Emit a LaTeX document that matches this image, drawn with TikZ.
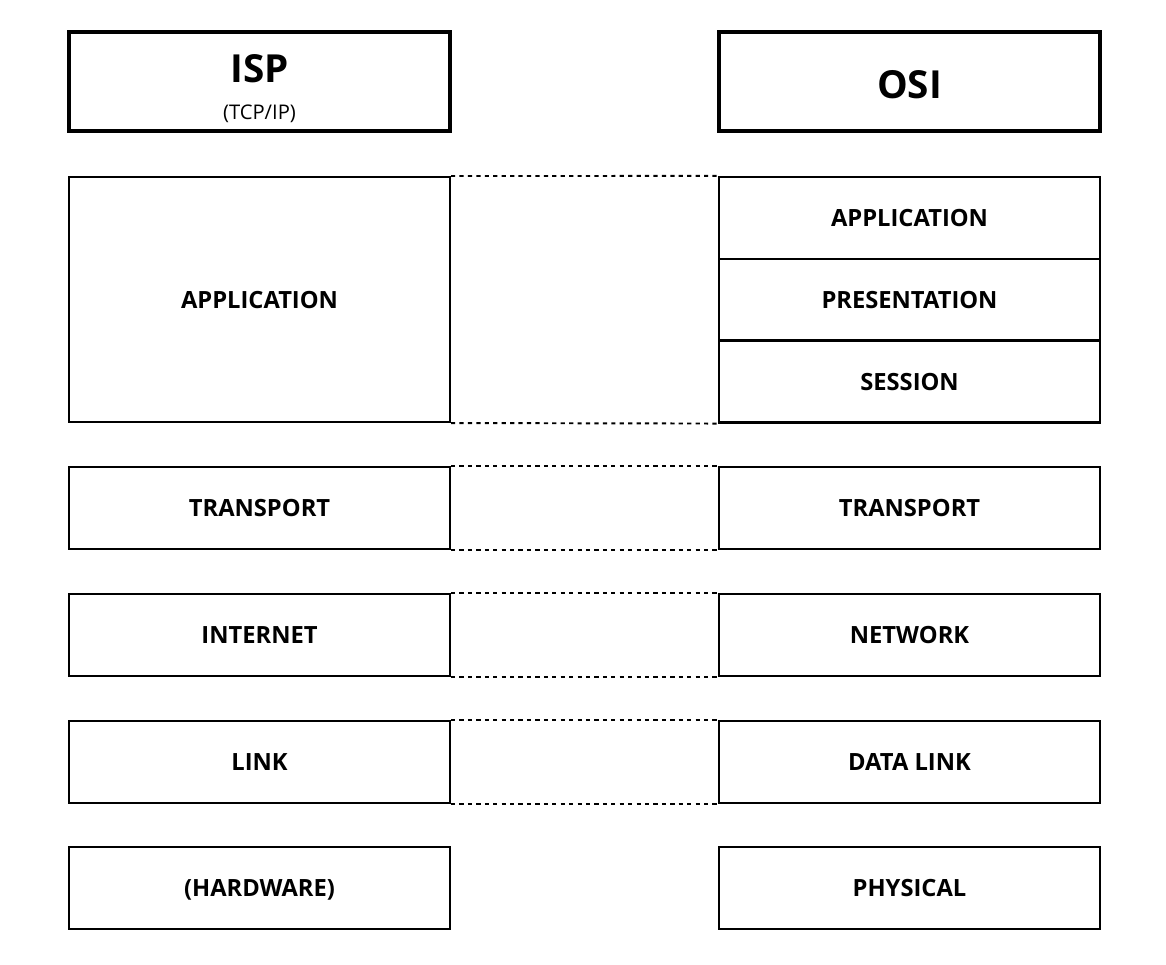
\documentclass[tikz,border=0pt]{standalone}
\usepackage{fontspec}
\setmainfont{Open Sans}
\begin{document}
\begin{tikzpicture}[x=0.02cm,y=-0.02cm,
  layer/.style={draw, line width=1.2pt, inner sep=0pt, minimum width=7.62cm,
    minimum height=1.64cm, text depth=0pt,
    font=\bfseries\fontsize{13.5}{16}\selectfont},
  header/.style={draw, line width=2.3pt, inner sep=0pt, minimum width=7.62cm,
    minimum height=1.98cm},
  title/.style={align=center, inner sep=0pt, text depth=0pt},
  peer/.style={line width=1.1pt, dash pattern=on 2.4pt off 2.4pt}]
\useasboundingbox (0,0) rectangle (1166,964);
% headers
\node[header] (isp) at (259.5,81.5) {};
\node[title] (isptitle) at (259.5,87) {\bfseries\fontsize{22}{26}\selectfont ISP\\[9pt]\mdseries\fontsize{11.5}{13}\selectfont (TCP/IP)};
\node[header] (osi) at (909.5,81.5) {};
\node[title, font=\bfseries\fontsize{22}{26}\selectfont] (osititle) at (909.5,84) {OSI};
% TCP/IP stack
\node[layer, minimum height=4.9cm] (lapp) at (259.5,299.5) {APPLICATION};
\node[layer] (ltra) at (259.5,508) {TRANSPORT};
\node[layer] (lint) at (259.5,635) {INTERNET};
\node[layer] (llnk) at (259.5,762) {LINK};
\node[layer] (lhw)  at (259.5,888) {(HARDWARE)};
% OSI stack
\node[layer] (rapp) at (909.5,218) {APPLICATION};
\node[layer] (rpre) at (909.5,300) {PRESENTATION};
\node[layer] (rses) at (909.5,381.5) {SESSION};
\node[layer] (rtra) at (909.5,508) {TRANSPORT};
\node[layer] (rnet) at (909.5,635) {NETWORK};
\node[layer] (rlnk) at (909.5,762) {DATA LINK};
\node[layer] (rphy) at (909.5,888) {PHYSICAL};
% layer correspondences
\draw[peer] (lapp.north east) -- (rapp.north west);
\draw[peer] (lapp.south east) -- (rses.south west);
\draw[peer] (ltra.north east) -- (rtra.north west);
\draw[peer] (ltra.south east) -- (rtra.south west);
\draw[peer] (lint.north east) -- (rnet.north west);
\draw[peer] (lint.south east) -- (rnet.south west);
\draw[peer] (llnk.north east) -- (rlnk.north west);
\draw[peer] (llnk.south east) -- (rlnk.south west);
\end{tikzpicture}
\end{document}
